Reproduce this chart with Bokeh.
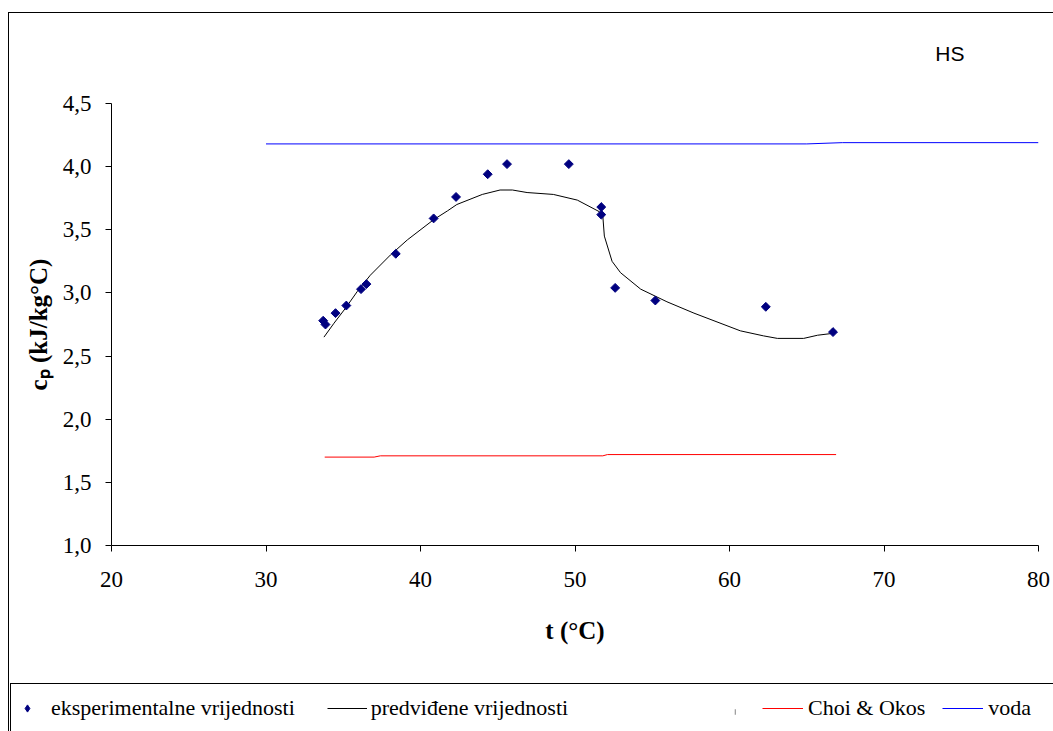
import math
from bokeh.plotting import figure
from bokeh.layouts import column
from bokeh.models import (Legend, LegendItem, CustomJSTickFormatter, FixedTicker, Range1d)
from bokeh.embed import file_html
from bokeh.resources import INLINE

# --- data -------------------------------------------------------------
t_exp = [33.7, 33.85, 34.5, 35.2, 36.15, 36.5, 38.4, 40.85, 42.3, 44.35, 45.6,
         49.6, 51.7, 51.7, 52.6, 55.2, 62.35, 66.7]
cp_exp = [2.78, 2.75, 2.84, 2.90, 3.03, 3.07, 3.31, 3.59, 3.76, 3.94, 4.02,
          4.02, 3.68, 3.62, 3.04, 2.94, 2.89, 2.69]

t_pred = [33.75, 34.4, 35.15, 35.9, 36.75, 38.05, 39.15, 40.85, 41.75, 42.35,
          44.0, 45.15, 45.95, 46.9, 48.6, 50.15, 51.55, 51.8, 51.9, 52.4, 52.95,
          54.25, 55.95, 57.7, 60.7, 62.2, 63.1, 64.8, 65.7, 66.7]
cp_pred = [2.65, 2.76, 2.88, 3.01, 3.14, 3.30, 3.42, 3.58, 3.65, 3.70,
           3.78, 3.815, 3.815, 3.795, 3.78, 3.735, 3.645, 3.61, 3.45, 3.25, 3.16,
           3.03, 2.93, 2.84, 2.70, 2.66, 2.64, 2.64, 2.665, 2.68]

t_choi = [33.8, 37.0, 37.4, 51.8, 52.1, 66.9]
cp_choi = [1.70, 1.70, 1.71, 1.71, 1.72, 1.72]

t_voda = [30.0, 65.0, 67.3, 80.0]
cp_voda = [4.18, 4.18, 4.19, 4.19]

x_ticks = [20, 30, 40, 50, 60, 70, 80]
y_ticks = [1.0, 1.5, 2.0, 2.5, 3.0, 3.5, 4.0, 4.5]

labels = ["eksperimentalne vrijednosti", "predviđene vrijednosti", " ",
          "Choi & Okos", "voda"]

SERIF = "Liberation Serif"
NAVY, BLACK, RED, BLUE = "#000080", "black", "#ff0000", "#0000ff"

# --- main figure -----------------------------------------------------
p = figure(width=1053, height=683, x_range=Range1d(20, 80), y_range=Range1d(1.0, 4.5),
           output_backend="svg", toolbar_location=None,
           min_border_left=111, min_border_right=15, min_border_top=102,
           min_border_bottom=138)
p.frame_align = False
p.xgrid.visible = False
p.ygrid.visible = False
p.outline_line_color = None
p.background_fill_color = None
p.border_fill_color = None

p.title.text = "HS"
p.title.align = "right"
p.title.offset = 74
p.title.standoff = 78
p.title.text_font = "Liberation Sans"
p.title.text_font_style = "normal"
p.title.text_font_size = "21px"
p.title.text_color = "black"

for ax in (p.xaxis[0], p.yaxis[0]):
    ax.axis_line_color = "black"
    ax.major_tick_line_color = "black"
    ax.major_tick_out = 6
    ax.major_tick_in = 0
    ax.minor_tick_line_color = None
    ax.major_label_text_font = SERIF
    ax.major_label_text_font_size = "23px"
    ax.major_label_text_color = "black"
    ax.axis_label_text_font = SERIF
    ax.axis_label_text_font_size = "25px"
    ax.axis_label_text_font_style = "bold"
    ax.axis_label_text_color = "black"

p.xaxis[0].ticker = FixedTicker(ticks=x_ticks)
p.yaxis[0].ticker = FixedTicker(ticks=y_ticks)
p.yaxis[0].formatter = CustomJSTickFormatter(code="return tick.toFixed(1).replace('.', ',')")
p.xaxis[0].major_label_standoff = 20
p.yaxis[0].major_label_standoff = 14
p.xaxis[0].axis_label = "t (°C)"
p.yaxis[0].axis_label = "cₚ (kJ/kg°C)"
p.xaxis[0].axis_label_standoff = 27
p.yaxis[0].axis_label_standoff = 8

p.line(t_voda, cp_voda, line_color=BLUE, line_width=1)
p.line(t_choi, cp_choi, line_color=RED, line_width=1)
p.line(t_pred, cp_pred, line_color=BLACK, line_width=1)
p.scatter(t_exp, cp_exp, marker="square", angle=math.pi / 4, size=6.3,
          fill_color=NAVY, line_color=NAVY)

# --- legend strip (its own small figure, so nothing is clipped) ------
q = figure(width=1053, height=48, x_range=Range1d(0, 1), y_range=Range1d(0, 1),
           output_backend="svg", toolbar_location=None, title=None,
           x_axis_type=None, y_axis_type=None, min_border=0)
q.frame_align = False
q.xgrid.visible = False
q.ygrid.visible = False
q.outline_line_color = None
q.background_fill_color = None
q.border_fill_color = None

# key glyphs: same series, but the strip's ranges keep them out of view
k_exp = q.scatter(t_exp, cp_exp, marker="diamond", size=8, fill_color=NAVY, line_color=NAVY)
k_pred = q.line(t_pred, cp_pred, line_color=BLACK, line_width=1)
k_blank = q.vbar(x=t_exp, top=cp_exp, width=0.5, fill_color="#a0a0a0", line_color=None)
k_choi = q.line(t_choi, cp_choi, line_color=RED, line_width=1)
k_voda = q.line(t_voda, cp_voda, line_color=BLUE, line_width=1)

common = dict(orientation="horizontal", padding=0, margin=0,
              border_line_color=None, background_fill_alpha=0,
              label_text_font=SERIF, label_text_font_size="22px",
              label_text_color="black", label_height=20)

leg_a = Legend(items=[LegendItem(label=labels[0], renderers=[k_exp]),
                      LegendItem(label=labels[1], renderers=[k_pred])],
               location=(7, 10), glyph_width=40, glyph_height=18,
               label_standoff=4, spacing=32, **common)
leg_b = Legend(items=[LegendItem(label=labels[2], renderers=[k_blank])],
               location=(734, 10), glyph_width=2, glyph_height=7,
               label_standoff=0, spacing=0, **common)
leg_c = Legend(items=[LegendItem(label=labels[3], renderers=[k_choi]),
                      LegendItem(label=labels[4], renderers=[k_voda])],
               location=(762, 10), glyph_width=41, glyph_height=12,
               label_standoff=5, spacing=17, **common)
q.add_layout(leg_a)
q.add_layout(leg_b)
q.add_layout(leg_c)

frame_css = {
    "background-color": "white",
    "background-image": ", ".join(["linear-gradient(#000, #000)"] * 4),
    "background-repeat": "no-repeat",
    "background-position": "8px 12px, 8px 12px, 10px 683px, 10px 683px",
    "background-size": "1px 719px, 1045px 1px, 1043px 1px, 1px 48px",
}
layout = column(p, q, spacing=0, styles=frame_css)

open("out.html", "w").write(file_html(layout, INLINE))
